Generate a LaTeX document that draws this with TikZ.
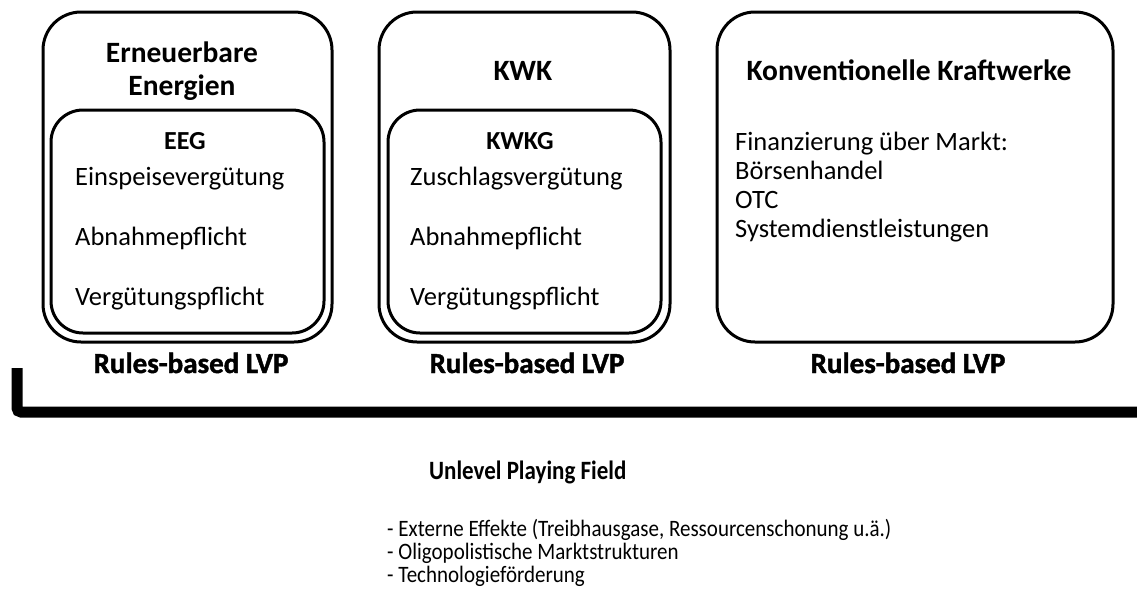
\documentclass[tikz,border=0pt]{standalone}
\usepackage{fontspec}
\setmainfont{Carlito}
\newfontfamily\heavyfont{Carlito}[BoldFeatures={FakeBold=1.5}]
\usetikzlibrary{positioning}

\begin{document}
\begin{tikzpicture}[
  x=1pt, y=-1pt,
  outer/.style={draw, line width=3pt, rounded corners=38pt, minimum height=330pt, inner sep=0pt},
  inner/.style={draw, line width=3pt, rounded corners=32pt, minimum width=273pt,
                minimum height=223pt, inner sep=0pt},
  head/.style={font=\fontsize{29.5}{34}\selectfont\bfseries, anchor=base, inner sep=0pt},
  law/.style={font=\fontsize{26}{30}\selectfont\bfseries, anchor=base, inner sep=0pt},
  txt/.style={font=\fontsize{26.5}{30}\selectfont, anchor=base west, inner sep=0pt},
  lvp/.style={font=\fontsize{29}{34}\selectfont\heavyfont\bfseries, anchor=base, inner sep=0pt},
  note/.style={font=\fontsize{21}{24}\selectfont, anchor=base west, inner sep=0pt},
  bracket/.style={line width=11pt, rounded corners=4pt}
]
\useasboundingbox (0,0) rectangle (1137,590);

% three pillars
\node[outer, minimum width=289pt] (ee) at (187.5,177) {};
\node[outer, minimum width=291pt, right=44pt of ee] (kwk) {};
\node[outer, minimum width=396pt, right=44pt of kwk] (kk) {};
\node[inner, anchor=south] (eeg) at ([yshift=9pt]ee.south) {};
\node[inner, anchor=south] (kwkg) at ([yshift=9pt]kwk.south) {};

\node[head] (ee1) at (182,62) {Erneuerbare};
\node[head] (ee2) at (182,95) {Energien};
\node[head] (kwkt) at (523,80) {KWK};
\node[head] (kkt) at (909,80) {Konventionelle Kraftwerke};

\node[law] (eegt) at (185,149) {EEG};
\node[law] (kwkgt) at (520,149) {KWKG};

\node[txt] (e1) at (75,185) {Einspeisevergütung};
\node[txt] (e2) at (75,245) {Abnahmepflicht};
\node[txt] (e3) at (75,305) {Vergütungspflicht};
\node[txt] (k1) at (410,185) {Zuschlagsvergütung};
\node[txt] (k2) at (410,245) {Abnahmepflicht};
\node[txt] (k3) at (410,305) {Vergütungspflicht};

\foreach \t [count=\i] in {Finanzierung über Markt:, Börsenhandel, OTC, Systemdienstleistungen}
  \node[txt] (m\i) at (735,150+29.3*\i-29.3) {\t};

\node[lvp] (lvp1) at (191,373) {Rules-based LVP};
\node[lvp] (lvp2) at (527,373) {Rules-based LVP};
\node[lvp] (lvp3) at (908,373) {Rules-based LVP};

% field
\coordinate (bl) at (17,368);
\coordinate (br) at (1137,412);
\draw[bracket] (bl) |- (br);

\node[font=\fontsize{23}{27}\selectfont\bfseries, anchor=base west, inner sep=0pt] (ulpf)
  at (429,479) {\scalebox{1}[1.15]{Unlevel Playing Field}};
\foreach \t [count=\i] in {{- Externe Effekte (Treibhausgase, Ressourcenschonung u.ä.)},
    {- Oligopolistische Marktstrukturen}, {- Technologieförderung}}
  \node[note] (u\i) at (387,536+23*\i-23) {\scalebox{1}[1.12]{\t}};
\end{tikzpicture}
\end{document}
